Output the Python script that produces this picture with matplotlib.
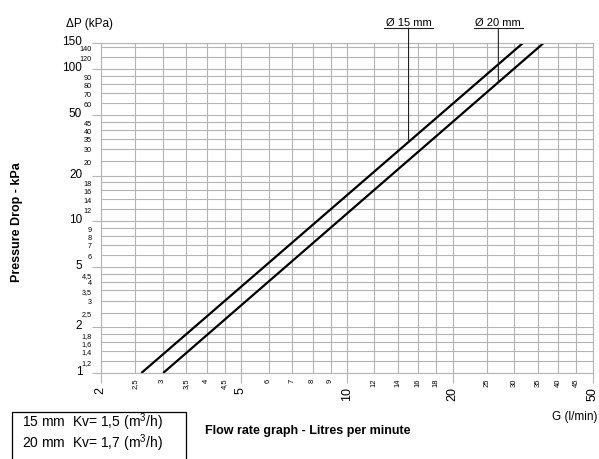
#!/usr/bin/env python3
"""
Pressure drop vs flow rate (log-log), 15 mm / 20 mm
"""

import numpy as np
import matplotlib
matplotlib.use('Agg')
import matplotlib.pyplot as plt
import matplotlib.patches as mpatches
import matplotlib.transforms as mtransforms

plt.rcParams['font.family'] = ['Liberation Sans', 'DejaVu Sans']
plt.rcParams['mathtext.fontset'] = 'custom'
plt.rcParams['mathtext.rm'] = 'Liberation Sans'

# data
dp = [1, 150]
flow_15 = [2.61, 31.8]
flow_20 = [3.01, 36.4]
size_labels = ['Ø 15 mm', 'Ø 20 mm']
leader_g = [15, 27]

y_major = [1, 2, 5, 10, 20, 50, 100, 150]
y_minor = [1.2, 1.4, 1.6, 1.8, 2.5, 3, 3.5, 4, 4.5, 6, 7, 8, 9, 12, 14, 16, 18,
           25, 30, 35, 40, 45, 60, 70, 80, 90, 120, 140]
y_minor_labels = ['1,2', '1,4', '1,6', '1,8', '2,5', '3', '3,5', '4', '4,5', '6', '7', '8', '9',
                  '12', '14', '16', '18', '20', '30', '35', '40', '45', '60', '70', '80', '90',
                  '120', '140']
x_major = [2, 5, 10, 20, 50]
x_minor = [2.5, 3, 3.5, 4, 4.5, 6, 7, 8, 9, 12, 14, 16, 18, 25, 30, 35, 40, 45]
x_minor_labels = ['2,5', '3', '3,5', '4', '4,5', '6', '7', '8', '9', '12', '14', '16', '18',
                  '25', '30', '35', '40', '45']

GRID = '#b4b4b4'
W, H = 599, 459

fig = plt.figure(figsize=(W / 100, H / 100), dpi=100, facecolor='white')
ax = fig.add_axes([100.7 / W, 1 - 373 / H, (592.5 - 100.7) / W, (373 - 42.7) / H])

ax.set_xscale('log')
ax.set_yscale('log')
ax.set_xlim(2, 50)
ax.set_ylim(1, 150)

ax.set_yticks(y_major, [str(v) for v in y_major])
ax.set_yticks(y_minor, y_minor_labels, minor=True)
ax.set_xticks(x_major, [str(v) for v in x_major])
ax.set_xticks(x_minor, x_minor_labels, minor=True)

ax.tick_params(axis='y', which='major', length=6.5, width=0.8, color=GRID, labelsize=8.5, pad=6.8)
ax.tick_params(axis='y', which='minor', length=0, labelsize=5.2, pad=6.5)
ax.tick_params(axis='x', which='major', length=7, width=0.8, color=GRID, labelsize=9,
               pad=3, labelrotation=90)
ax.tick_params(axis='x', which='minor', length=0, labelsize=5.5, pad=4, labelrotation=90)

# major y labels sit a little above their line, minor ones a touch below
up = mtransforms.ScaledTranslation(0, 2.5 / 100, fig.dpi_scale_trans)
for lbl in ax.get_yticklabels():
    lbl.set_transform(lbl.get_transform() + up)
down = mtransforms.ScaledTranslation(0, -1.2 / 100, fig.dpi_scale_trans)
for lbl in ax.get_yticklabels(minor=True):
    lbl.set_transform(lbl.get_transform() + down)

ax.grid(which='both', color=GRID, lw=0.8)
for s in ax.spines.values():
    s.set_color(GRID)
    s.set_linewidth(0.8)

# curves
for flow in (flow_15, flow_20):
    ax.plot(flow, dp, color='black', lw=1.6, solid_capstyle='butt')

# size labels with leader lines
trans = mtransforms.blended_transform_factory(ax.transData, ax.transAxes)
for lab, g, flow in zip(size_labels, leader_g, (flow_15, flow_20)):
    p = np.exp(np.interp(np.log(g), np.log(flow), np.log(dp)))
    ax.annotate('', xy=(g, p), xytext=(g, 1.044), textcoords=('data', 'axes fraction'),
                arrowprops=dict(arrowstyle='-', lw=0.8, color='#222', shrinkA=0, shrinkB=0),
                annotation_clip=False)
    ax.text(g, 1.051, lab, transform=trans, ha='center', va='baseline', fontsize=8)
    ax.plot([g / 1.174, g * 1.174], [1.044, 1.044], transform=trans, clip_on=False,
            color='#222', lw=0.8)

# texts
fig.text(66 / W, 1 - 27 / H, 'ΔP (kPa)', fontsize=8.5, va='baseline')
fig.text(597 / W, 1 - 420 / H, 'G (l/min)', fontsize=8.5, ha='right', va='baseline')
fig.text(17 / W, 1 - 222 / H, 'Pressure Drop - kPa', rotation=90, fontsize=9,
         fontweight='bold', ha='center', va='center')
fig.text(205 / W, 1 - 431 / H, 'Flow rate graph - Litres per minute', fontsize=9,
         fontweight='bold', va='center')

# Kv box
box = mpatches.Rectangle((12 / W, -0.05), (186 - 12) / W, 0.05 + 1 - 412 / H,
                         transform=fig.transFigure, fill=False, ec='black', lw=0.9)
fig.patches.append(box)
fig.text(22 / W, 1 - 422 / H, '15 mm  Kv= 1,5 (m$^{3}$/h)', fontsize=10, va='center')
fig.text(22 / W, 1 - 443 / H, '20 mm  Kv= 1,7 (m$^{3}$/h)', fontsize=10, va='center')

plt.savefig('out.png', dpi=100, facecolor='white')
plt.close()
